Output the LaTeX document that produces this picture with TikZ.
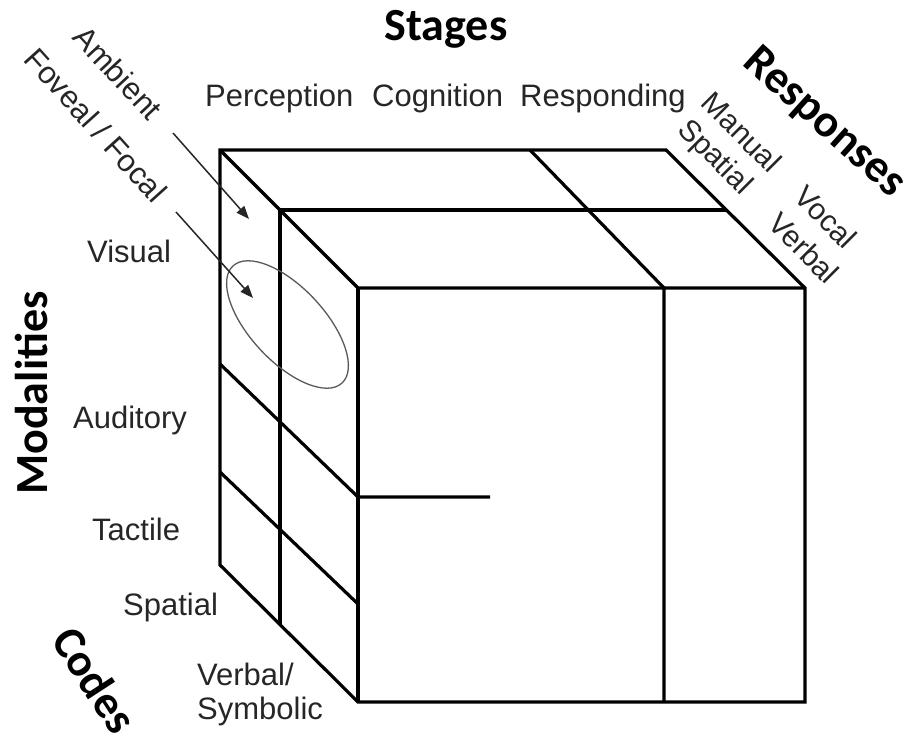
\documentclass[tikz,border=0pt]{standalone}
\usepackage{fontspec}
\setmainfont{Liberation Sans}
\newfontfamily\hdfont{Carlito}
\usetikzlibrary{arrows.meta}

\definecolor{ink}{HTML}{262626}

\tikzset{
  cubeline/.style={line width=3.2pt, line join=miter, draw=black},
  lbl/.style={font=\fontsize{31}{34}\selectfont, text=ink, inner sep=0pt},
  sidelbl/.style={font=\fontsize{30}{32}\selectfont, text=ink, inner sep=0pt, rotate=-45},
  head/.style={font=\hdfont\bfseries\fontsize{46}{50}\selectfont, text=black, inner sep=0pt},
  pointer/.style={line width=1.5pt, draw=ink, -{Triangle[length=13pt,width=10pt]}},
}

\begin{document}
\begin{tikzpicture}[x=1pt, y=-1pt]
\useasboundingbox (0,0) rectangle (908,736);

% cube corners
\coordinate (A) at (220,150);   % back top left
\coordinate (B) at (666,150);   % back top right
\coordinate (C) at (805,288);   % front top right
\coordinate (D) at (358,288);   % front top left
\coordinate (E) at (358,702);   % front bottom left
\coordinate (F) at (805,702);   % front bottom right
\coordinate (G) at (220,565);   % back bottom left

% dividing points
\coordinate (m1) at (280,210);
\coordinate (m2) at (727,210);
\coordinate (m3) at (280,625);
\coordinate (s1) at (530,150);
\coordinate (s2) at (664,288);
\coordinate (s3) at (664,702);
\coordinate (h1) at (220,364);
\coordinate (h2) at (358,497);
\coordinate (h3) at (220,472);
\coordinate (h4) at (358,604);
\coordinate (h5) at (490,497);

% cube outline
\draw[cubeline] (A) -- (B) -- (C) -- (F) -- (E) -- (G) -- cycle;
\draw[cubeline] (A) -- (D) -- (C);
\draw[cubeline] (D) -- (E);

% inner divisions
\draw[cubeline] (m1) -- (m2);
\draw[cubeline] (m1) -- (m3);
\draw[cubeline] (s1) -- (s2) -- (s3);
\draw[cubeline] (h1) -- (h2) -- (h5);
\draw[cubeline] (h3) -- (h4);

% focal region
\draw[line width=1.3pt, draw=black!65, rotate around={-47:(287.5,324.5)}]
  (287.5,324.5) ellipse [x radius=80pt, y radius=37pt];

% pointers
\coordinate (ambS) at (173,133);
\coordinate (ambE) at (249,219);
\coordinate (fovS) at (176,212);
\coordinate (fovE) at (253,298);
\draw[pointer] (ambS) -- (ambE);
\draw[pointer] (fovS) -- (fovE);

% headings
\node[head, anchor=base] (stages) at (446,40) {Stages};
\node[head, rotate=-42] (responses) at (824,123) {Responses};
\node[head, rotate=90] (modalities) at (31,393) {Modalities};
\node[head, rotate=-57] (codes) at (95,680) {Codes};

% stage labels
\node[lbl, anchor=base west] (perception) at (205,106) {Perception};
\node[lbl, anchor=base west] (cognition) at (372,106) {Cognition};
\node[lbl, anchor=base west] (responding) at (520,106) {Responding};

% modality and code labels
\node[lbl, anchor=base west] (visual) at (87,262) {Visual};
\node[lbl, anchor=base west] (auditory) at (73,428) {Auditory};
\node[lbl, anchor=base west] (tactile) at (92,540) {Tactile};
\node[lbl, anchor=base west] (spatialL) at (123,615) {Spatial};
\node[lbl, anchor=base west] (verbalL) at (197,685) {Verbal/};
\node[lbl, anchor=base west] (symbolic) at (197,719) {Symbolic};

% visual sub-labels
\node[lbl, rotate=-47] (ambient) at (118,73) {Ambient};
\node[lbl, rotate=-48] (foveal) at (96,125) {Foveal / Focal};

% response labels
\node[sidelbl] (manual) at (742,132) {Manual};
\node[sidelbl] (spatialR) at (714,158) {Spatial};
\node[sidelbl] (vocal) at (826,217) {Vocal};
\node[sidelbl] (verbalR) at (804,248) {Verbal};
\end{tikzpicture}
\end{document}
